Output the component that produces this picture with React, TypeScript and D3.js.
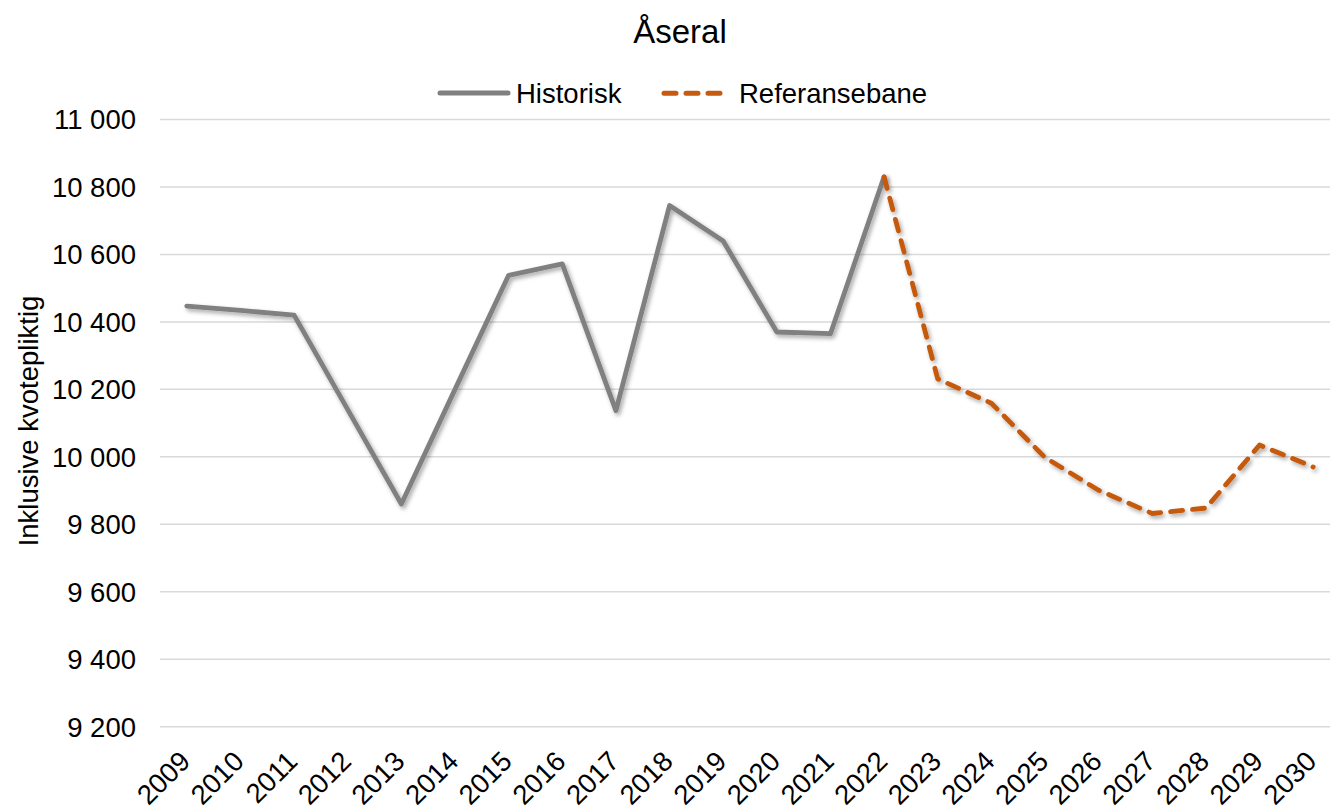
import React from "react";
import * as d3 from "d3";

const years = ["2009","2010","2011","2012","2013","2014","2015","2016","2017","2018","2019","2020","2021","2022","2023","2024","2025","2026","2027","2028","2029","2030"];
const historisk: (number | null)[] = [10447, 10434, 10420, 10140, 9860, 10200, 10538, 10572, 10137, 10745, 10640, 10370, 10365, 10830, null, null, null, null, null, null, null, null];
const referansebane: (number | null)[] = [null, null, null, null, null, null, null, null, null, null, null, null, null, 10830, 10231, 10159, 9998, 9901, 9832, 9848, 10035, 9970];
const yTicks = [9200, 9400, 9600, 9800, 10000, 10200, 10400, 10600, 10800, 11000];

const W = 1330;
const H = 807;
const FONT = "Liberation Sans, Arial, sans-serif";
const FS = 27.5;

export default function App() {
  const x = d3.scalePoint<string>().domain(years).range([160, 1340]).padding(0.5);
  const y = d3.scaleLinear().domain([9200, 11000]).range([726.7, 119.5]);
  const fmt = (v: number) => d3.format(",")(v).replace(/,/g, " ");

  const line = d3
    .line<[string, number | null]>()
    .defined((d) => d[1] != null)
    .x((d) => x(d[0]) as number)
    .y((d) => y(d[1] as number));

  const histPath = line(years.map((yr, i) => [yr, historisk[i]]));
  const refPath = line(years.map((yr, i) => [yr, referansebane[i]]));

  return (
    <svg width={W} height={H} style={{ position: "absolute", left: 0, top: 0, background: "#fff" }} fontFamily={FONT}>
      <defs>
        <filter id="shadow" x="-10%" y="-10%" width="120%" height="130%">
          <feDropShadow dx="2" dy="2.5" stdDeviation="2.2" floodColor="#000" floodOpacity="0.35" />
        </filter>
      </defs>
      <rect x={0} y={0} width={W} height={H} fill="#fff" />
      <text x={680} y={43} textAnchor="middle" fontSize={33} fill="#000">Åseral</text>

      {/* legend */}
      <line x1={440} x2={508} y1={93} y2={93} stroke="#808080" strokeWidth={5} strokeLinecap="round" />
      <text x={516} y={103} fontSize={FS} fill="#000">Historisk</text>
      <line x1={664} x2={724} y1={93.3} y2={93.3} stroke="#C55A11" strokeWidth={5} strokeLinecap="round" strokeDasharray="12 10" />
      <text x={739} y={103} fontSize={FS} fill="#000">Referansebane</text>

      {/* gridlines and y ticks */}
      {yTicks.map((t) => (
        <g key={t}>
          <line x1={160} x2={1330} y1={y(t)} y2={y(t)} stroke="#d9d9d9" strokeWidth={1.5} />
          <text x={136} y={y(t) + 9.8} textAnchor="end" fontSize={FS} fill="#000">{fmt(t)}</text>
        </g>
      ))}

      {/* y axis title */}
      <text transform={`translate(38, 421) rotate(-90)`} textAnchor="middle" fontSize={FS} fill="#000">Inklusive kvotepliktig</text>

      {/* x labels */}
      {years.map((yr) => (
        <text key={yr} transform={`translate(${(x(yr) as number) + 5}, 763) rotate(-45)`} textAnchor="end" fontSize={FS} fill="#000">{yr}</text>
      ))}

      {/* series */}
      <path d={histPath || ""} fill="none" stroke="#808080" strokeWidth={4.8} strokeLinejoin="round" strokeLinecap="round" filter="url(#shadow)" />
      <path d={refPath || ""} fill="none" stroke="#C55A11" strokeWidth={4.8} strokeLinejoin="round" strokeLinecap="round" strokeDasharray="12 10" filter="url(#shadow)" />
    </svg>
  );
}
